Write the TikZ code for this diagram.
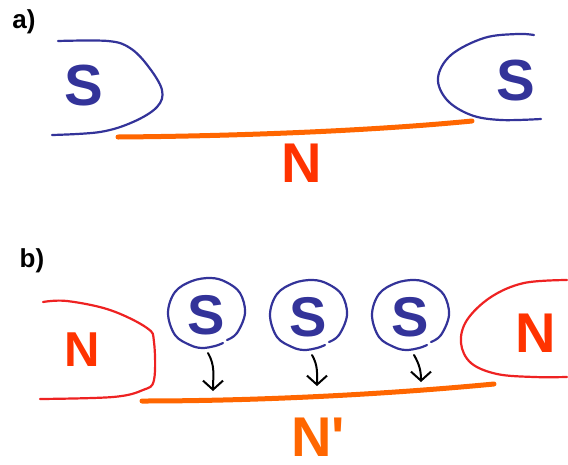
\documentclass[tikz,border=0pt]{standalone}
\usepackage{fontspec}
\setmainfont{Liberation Sans}
\usetikzlibrary{calc, arrows.meta}
\definecolor{sblue}{RGB}{51,51,153}
\definecolor{ntext}{RGB}{255,51,0}
\definecolor{nline}{RGB}{238,34,34}
\definecolor{conduct}{RGB}{255,102,0}
\tikzset{
  pole/.style={inner sep=0pt, font=\bfseries\fontsize{#1}{#1}\selectfont},
  spole/.style={pole=#1, text=sblue},
  npole/.style={pole=#1, text=ntext},
  sfield/.style={draw=sblue, line width=2.2pt, line cap=round},
  nfield/.style={draw=nline, line width=2.2pt, line cap=round},
  wire/.style={draw=conduct, line width=5pt, line cap=round},
  drop/.style={line width=2pt, line cap=round, -{Straight Barb[length=9pt, width=20pt, line width=2pt]}}
}
\begin{document}
\begin{tikzpicture}[x=1pt, y=-1pt]
  \useasboundingbox (0,0) rectangle (568,464);
  % a)
  \node[pole=26] (labA) at (24,22) {a)};
  \draw[sfield] plot[smooth, tension=0.6] coordinates {(58,41) (108,41) (130,48) (148,66) (162,90) (157,107) (133,122) (100,132) (52,135)};
  \draw[sfield] plot[smooth, tension=0.6] coordinates {(534,35) (517,34) (484,38) (451,55) (438,78) (447,100) (471,115) (501,120) (541,119)};
  \node[spole=58] (sA1) at (84,86) {S};
  \node[spole=58] (sA2) at (516,81) {S};
  \coordinate (wA1) at (118,137);
  \coordinate (wA2) at (472,121);
  \draw[wire] (wA1) .. controls (250,136) and (380,130) .. (wA2);
  \node[npole=56] (nA) at (302,163) {N};
  % b)
  \node[pole=26] (labB) at (32,261) {b)};
  \draw[nfield] plot[smooth, tension=0.6] coordinates {(43,302) (67,301) (110,310) (147,328) (154,342) (154,380) (143,390) (113,397) (40,399)};
  \draw[nfield] plot[smooth, tension=0.6] coordinates {(567,280) (524,283) (491,297) (467,320) (461,343) (471,363) (497,374) (534,377) (567,377)};
  \node[npole=49] (nB1) at (82,350) {N};
  \node[npole=56] (nB2) at (536,333) {N};
  \coordinate (wB1) at (142,401);
  \coordinate (wB2) at (494,384);
  \draw[wire] (wB1) .. controls (270,401) and (400,393) .. (wB2);
  \node[pole=56, text=conduct] (nBp) at (318,437) {N\textquotesingle};
  \foreach \i/\cx/\cy/\ax/\ay/\tx/\ty in {1/206/313/208/353/213/391, 2/308/315/312/355/317/386, 3/410/315/414/355/421/382} {
    \draw[sfield, shift={(\cx,\cy)}] plot[smooth, tension=0.6] coordinates {(21,27) (31,20) (39,0) (34,-20) (20,-31) (5,-35) (-14,-32) (-31,-21) (-38,0) (-31,22) (-16,32) (-4,35) (9,33) (17,30)};
    \node[spole=56] (sB\i) at (\cx,\cy+2) {S};
    \coordinate (top\i) at (\ax,\ay);
    \coordinate (tip\i) at (\tx,\ty);
    \draw[drop] (top\i) to[out=-60, in=90] (tip\i);
  }
\end{tikzpicture}
\end{document}
